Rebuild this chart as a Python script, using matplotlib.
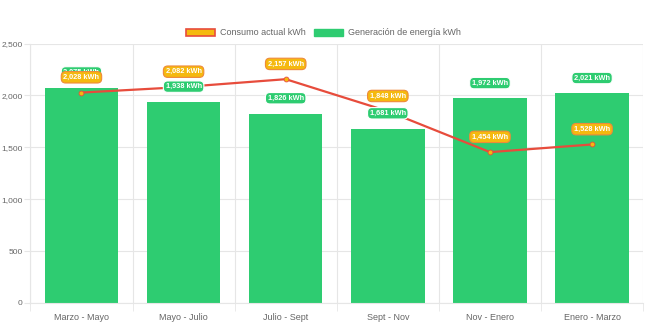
import matplotlib.pyplot as plt
from matplotlib.patches import Patch
from matplotlib.ticker import FuncFormatter, MultipleLocator

plt.rcParams["font.family"] = ["Liberation Sans", "DejaVu Sans"]

periodos = ["Marzo - Mayo", "Mayo - Julio", "Julio - Sept", "Sept - Nov", "Nov - Enero", "Enero - Marzo"]
generacion = [2075, 1938, 1826, 1681, 1972, 2021]
consumo = [2028, 2082, 2157, 1848, 1454, 1528]

VERDE = "#2ecc71"
ROJO = "#e74c3c"
NARANJA = "#f5b90f"
GRIS = "#666666"
REJILLA = "#e6e6e6"

fig = plt.figure(figsize=(6.47, 3.23), dpi=100)
ax = fig.add_axes([0.047, 0.062, 0.947, 0.803])

x = list(range(len(periodos)))
ax.bar(x, generacion, width=0.72, color=VERDE, zorder=2)
ax.plot(x, consumo, color=ROJO, lw=1.6, zorder=3,
        marker="o", ms=3.5, mfc=NARANJA, mec=ROJO, mew=0.6)

ax.set_xlim(-0.5, len(periodos) - 0.5)
ax.set_ylim(0, 2500)
ax.yaxis.set_major_locator(MultipleLocator(500))
ax.yaxis.set_major_formatter(FuncFormatter(lambda v, p: f"{int(v):,}"))
ax.set_xticks(x)
ax.set_xticklabels(periodos)
ax.set_xticks([i - 0.5 for i in range(len(periodos) + 1)], minor=True)

ax.grid(True, axis="y", color=REJILLA, lw=0.8, zorder=0)
ax.grid(True, axis="x", which="minor", color=REJILLA, lw=0.8, zorder=0)
ax.tick_params(axis="x", which="major", length=0, colors=GRIS, labelsize=6.5, pad=7)
ax.tick_params(axis="x", which="minor", length=6, color=REJILLA)
ax.tick_params(axis="y", length=4, color=REJILLA, colors=GRIS, labelsize=6, pad=1.5)
for s in ["top", "right"]:
    ax.spines[s].set_visible(False)
for s in ["left", "bottom"]:
    ax.spines[s].set_color(REJILLA)

def etiqueta(xv, yv, texto, fondo, borde):
    ax.annotate(texto, (xv, yv), xytext=(0, 11), textcoords="offset points",
                ha="center", va="center", fontsize=5.3, fontweight="bold", color="white",
                zorder=5,
                bbox=dict(boxstyle="round,pad=0.3,rounding_size=0.6", fc=fondo, ec=borde, lw=0.8))

for xi, v in zip(x, generacion):
    etiqueta(xi, v, f"{v:,} kWh", VERDE, "white")
for xi, v in zip(x, consumo):
    etiqueta(xi, v, f"{v:,} kWh", NARANJA, "#ee8a3a")

handles = [Patch(fc=NARANJA, ec=ROJO, lw=1.2), Patch(fc=VERDE, ec=VERDE)]
fig.legend(handles, ["Consumo actual kWh", "Generación de energía kWh"],
           loc="center", bbox_to_anchor=(0.5, 0.898), ncol=2, frameon=False,
           fontsize=6.5, labelcolor=GRIS, handlelength=3.2, handleheight=0.9,
           columnspacing=1.0, handletextpad=0.5)

fig.savefig("out.png", dpi=100)
